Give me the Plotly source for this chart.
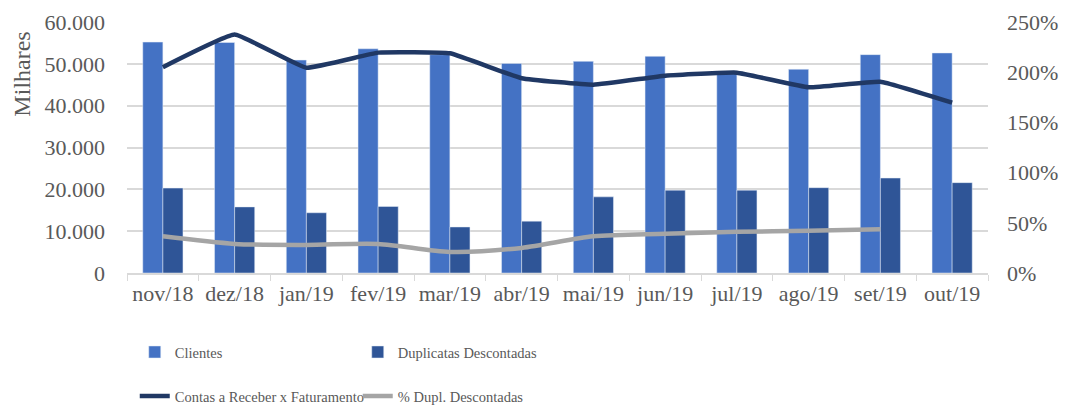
import plotly.graph_objects as go

categories = ["nov/18", "dez/18", "jan/19", "fev/19", "mar/19", "abr/19",
              "mai/19", "jun/19", "jul/19", "ago/19", "set/19", "out/19"]
clientes = [55200, 55100, 50900, 53600, 52200, 50100, 50600, 51800, 47900, 48700, 52200, 52600]
duplicatas = [20300, 15800, 14400, 15900, 11000, 12400, 18200, 19800, 19800, 20400, 22700, 21600]
contas_fat = [2.05, 2.375, 2.045, 2.195, 2.188, 1.94, 1.875, 1.965, 1.995, 1.85, 1.905, 1.696]
pct_dupl = [0.365, 0.29, 0.28, 0.29, 0.21, 0.25, 0.365, 0.39, 0.41, 0.42, 0.435, None]

FONT = "Liberation Serif"
TXT = "#595959"
TICK = dict(family=FONT, size=22, color=TXT)
LEG = dict(family=FONT, size=14.5, color=TXT)

fig = go.Figure()
fig.add_trace(go.Bar(x=categories, y=clientes, name="Clientes",
                     marker=dict(color="#4472C4"), legend="legend"))
fig.add_trace(go.Bar(x=categories, y=duplicatas, name="Duplicatas Descontadas",
                     marker=dict(color="#2F5597"), legend="legend"))
fig.add_trace(go.Scatter(x=categories, y=contas_fat, name="Contas a Receber x Faturamento",
                         mode="lines", yaxis="y2",
                         line=dict(color="#203864", width=4.5, shape="spline", smoothing=0.3),
                         legend="legend2"))
fig.add_trace(go.Scatter(x=categories, y=pct_dupl, name="% Dupl. Descontadas",
                         mode="lines", yaxis="y2",
                         line=dict(color="#A5A5A5", width=4.5, shape="spline", smoothing=0.8),
                         legend="legend2"))

fig.update_layout(
    width=1066, height=407,
    margin=dict(l=127, r=78, t=22, b=134, autoexpand=False),
    paper_bgcolor="white", plot_bgcolor="white",
    font=dict(family=FONT, size=20, color=TXT),
    separators=",.",
    barmode="group", bargap=0.44, bargroupgap=0,
    xaxis=dict(type="category", showline=True, linecolor="#D9D9D9", linewidth=1.5,
               ticks="outside", tickson="boundaries", ticklen=6, tickcolor="#D9D9D9",
               tickfont=TICK, showgrid=False, automargin=False),
    yaxis=dict(range=[0, 60000], dtick=10000, tickformat=",d",
               showgrid=True, gridcolor="#D9D9D9", gridwidth=1.5, zeroline=False,
               tickfont=TICK, automargin=False, ticklabelstandoff=21),
    yaxis2=dict(range=[0, 2.5], dtick=0.5, tickformat=".0%", overlaying="y", side="right",
                showgrid=False, zeroline=False, tickfont=TICK, automargin=False,
                ticklabelstandoff=18),
    legend=dict(orientation="h", x=0.009, y=-0.315, xanchor="left", yanchor="middle",
                entrywidth=178, entrywidthmode="pixels",
                font=LEG, bgcolor="rgba(0,0,0,0)"),
    legend2=dict(orientation="h", x=0.009, y=-0.49, xanchor="left", yanchor="middle",
                 entrywidth=178, entrywidthmode="pixels",
                 font=LEG, bgcolor="rgba(0,0,0,0)"),
    annotations=[dict(text="Milhares", xref="paper", yref="paper",
                      x=-0.123, y=0.968, xanchor="center", yanchor="top",
                      textangle=-90, showarrow=False,
                      font=dict(family=FONT, size=24, color=TXT))],
)

fig.write_html("out.html", config={"displayModeBar": False},
               post_script="document.body.style.margin='0px';")
